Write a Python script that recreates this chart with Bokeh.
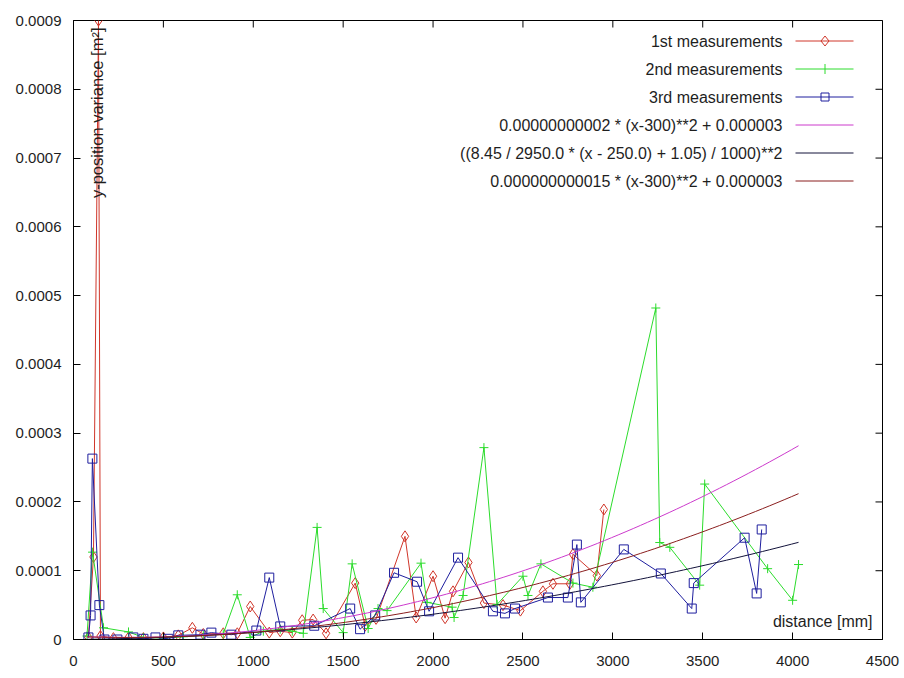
import numpy as np
from bokeh.plotting import figure
from bokeh.models import (FixedTicker, Range1d, Label, PolyAnnotation, Arrow,
                          NumeralTickFormatter)
from bokeh.embed import file_html
from bokeh.resources import INLINE

# ---- data ----
x_1st = [83, 111, 139, 150, 222, 306, 389, 500, 583, 661, 722, 833, 911, 983, 1089, 1150,
         1217, 1272, 1333, 1405, 1567, 1622, 1683, 1844, 1906, 2000, 2067, 2111, 2197, 2283,
         2389, 2486, 2611, 2667, 2761, 2778, 2911, 2950]
y_1st = [3e-6, 1.2e-4, 9.0e-4, 5e-6, 2e-6, 3e-6, 2e-6, 3e-6, 6e-6, 1.7e-5, 8e-6, 9e-6, 9e-6,
         4.8e-5, 1.0e-5, 1.2e-5, 1.0e-5, 2.8e-5, 2.9e-5, 9e-6, 8.2e-5, 2.0e-5, 3.0e-5, 1.5e-4,
         3.2e-5, 9.2e-5, 3.1e-5, 7.0e-5, 1.12e-4, 5.3e-5, 5.0e-5, 4.2e-5, 7.0e-5, 8.1e-5,
         8.1e-5, 1.24e-4, 9.3e-5, 1.89e-4]

x_2nd = [75, 106, 167, 306, 389, 500, 611, 722, 833, 911, 983, 1056, 1150, 1217, 1278, 1355,
         1389, 1500, 1550, 1639, 1694, 1744, 1933, 1967, 2106, 2117, 2167, 2283, 2356, 2500,
         2528, 2600, 2778, 2889, 3239, 3261, 3317, 3483, 3511, 3861, 4000, 4033]
y_2nd = [5e-6, 1.27e-4, 1.7e-5, 1.1e-5, 3e-6, 2e-6, 4e-6, 6e-6, 8e-6, 6.5e-5, 3e-6, 1.2e-5,
         1.5e-5, 1.2e-5, 9e-6, 1.63e-4, 4.5e-5, 1.0e-5, 1.1e-4, 1.6e-5, 4.5e-5, 4.2e-5,
         1.11e-4, 5.4e-5, 4.7e-5, 3.2e-5, 6.4e-5, 2.79e-4, 5.1e-5, 9.2e-5, 6.4e-5, 1.1e-4,
         8.2e-5, 7.6e-5, 4.82e-4, 1.41e-4, 1.34e-4, 7.9e-5, 2.26e-4, 1.03e-4, 5.7e-5, 1.09e-4]

x_3rd = [83, 95, 105, 144, 172, 244, 333, 389, 456, 528, 583, 706, 767, 878, 1017, 1089, 1150,
         1339, 1539, 1594, 1678, 1783, 1911, 1978, 2139, 2333, 2400, 2456, 2639, 2750, 2800,
         2822, 3061, 3267, 3439, 3450, 3733, 3800, 3828]
y_3rd = [3e-6, 3.5e-5, 2.63e-4, 5.0e-5, 0.0, 0.0, 3e-6, 1e-6, 3e-6, 1e-6, 6e-6, 7e-6, 1.0e-5,
         7e-6, 1.3e-5, 9.0e-5, 1.9e-5, 2.0e-5, 4.5e-5, 1.5e-5, 3.5e-5, 9.7e-5, 8.4e-5, 4.1e-5,
         1.19e-4, 4.1e-5, 3.8e-5, 4.5e-5, 6.1e-5, 6.1e-5, 1.38e-4, 5.4e-5, 1.31e-4, 9.6e-5,
         4.5e-5, 8.2e-5, 1.48e-4, 6.7e-5, 1.6e-4]

legend_labels = ["1st measurements", "2nd measurements", "3rd measurements",
                 "0.00000000002 * (x-300)**2 + 0.000003",
                 "((8.45 / 2950.0 * (x - 250.0) + 1.05) / 1000)**2",
                 "0.000000000015 * (x-300)**2 + 0.000003"]
x_ticks = [0, 500, 1000, 1500, 2000, 2500, 3000, 3500, 4000, 4500]
y_ticks = [0, 0.0001, 0.0002, 0.0003, 0.0004, 0.0005, 0.0006, 0.0007, 0.0008, 0.0009]
X_MIN, X_MAX = 0, 4500
Y_MIN, Y_MAX = 0, 0.0009

# fitted functions given in the legend, sampled over the data range (gnuplot default 100 samples)
xs = np.linspace(min(x_2nd), max(x_2nd), 100)
f1 = 0.00000000002 * (xs - 300) ** 2 + 0.000003
f2 = ((8.45 / 2950.0 * (xs - 250.0) + 1.05) / 1000) ** 2
f3 = 0.000000000015 * (xs - 300) ** 2 + 0.000003

C_RED = "#d0362a"
C_GREEN = "#2cdc2c"
C_BLUE = "#1e1e9e"
C_MAG = "#cc3acc"
C_DARK = "#12123a"
C_BROWN = "#8a1e1e"
FONT = "Liberation Sans"
TXT = "#1e1e1e"

p = figure(width=904, height=678, output_backend="svg", toolbar_location=None,
           x_range=Range1d(X_MIN, X_MAX), y_range=Range1d(Y_MIN, Y_MAX))
p.min_border_left = 73
p.min_border_right = 22
p.min_border_top = 20
p.min_border_bottom = 39
p.xgrid.visible = False
p.ygrid.visible = False
p.outline_line_color = "black"
p.outline_line_width = 1
p.background_fill_color = "white"
p.border_fill_color = "white"

for ax in (p.xaxis[0], p.yaxis[0]):
    ax.major_tick_in = 7
    ax.major_tick_out = 0
    ax.minor_tick_line_color = None
    ax.axis_line_color = "black"
    ax.major_tick_line_color = "black"
    ax.major_label_text_font = FONT
    ax.major_label_text_font_size = "15px"
    ax.major_label_text_color = TXT
p.xaxis[0].ticker = FixedTicker(ticks=x_ticks)
p.yaxis[0].ticker = FixedTicker(ticks=y_ticks)
p.yaxis[0].formatter = NumeralTickFormatter(format="0.[0000]")
p.xaxis[0].major_label_standoff = 16
p.yaxis[0].major_label_standoff = 12

# mirrored ticks on the top and right edges (half of each dash is clipped by the frame)
p.scatter(x_ticks, [Y_MAX] * len(x_ticks), marker="dash", angle=np.pi / 2, size=14,
          line_color="black", line_width=1)
p.scatter([X_MAX] * len(y_ticks), y_ticks, marker="dash", size=14,
          line_color="black", line_width=1)

p.line(x_1st, y_1st, line_color=C_RED, line_width=1)
p.scatter(x_1st, y_1st, marker="diamond", size=11, fill_color=None, line_color=C_RED)
p.line(x_2nd, y_2nd, line_color=C_GREEN, line_width=1)
p.scatter(x_2nd, y_2nd, marker="cross", size=9, line_color=C_GREEN)
p.line(x_3rd, y_3rd, line_color=C_BLUE, line_width=1)
p.scatter(x_3rd, y_3rd, marker="square", size=9, fill_color=None, line_color=C_BLUE)
p.line(xs, f1, line_color=C_MAG, line_width=1)
p.line(xs, f2, line_color=C_DARK, line_width=1)
p.line(xs, f3, line_color=C_BROWN, line_width=1)

# ---- key (text right-aligned, sample to the right, as gnuplot draws it) ----
key_colors = [C_RED, C_GREEN, C_BLUE, C_MAG, C_DARK, C_BROWN]
KX0, KX1, KXM = 722, 780, 751.5
for i, (t, c) in enumerate(zip(legend_labels, key_colors)):
    ky = 598 - 28 * i
    kl = ky + 0.5  # pixel-centred line
    p.add_layout(Label(x=709, y=ky, x_units="screen", y_units="screen", text=t,
                       text_align="right", text_baseline="middle", text_font=FONT,
                       text_font_size="16px", text_color=TXT))
    p.add_layout(Arrow(end=None, start=None, x_start=KX0, y_start=kl, x_end=KX1, y_end=kl,
                       start_units="screen", end_units="screen", line_color=c, line_width=1))
    if i == 0:
        p.add_layout(PolyAnnotation(xs=[KXM - 4, KXM, KXM + 4, KXM],
                                    ys=[kl, kl + 5, kl, kl - 5],
                                    xs_units="screen", ys_units="screen", fill_alpha=0,
                                    line_color=c, line_alpha=1.0, line_width=1))
    elif i == 1:
        p.add_layout(Arrow(end=None, start=None, x_start=KXM, y_start=kl - 5, x_end=KXM,
                           y_end=kl + 5, start_units="screen", end_units="screen",
                           line_color=c, line_width=1))
    elif i == 2:
        p.add_layout(PolyAnnotation(xs=[KXM - 4, KXM + 4, KXM + 4, KXM - 4],
                                    ys=[kl - 4, kl - 4, kl + 4, kl + 4],
                                    xs_units="screen", ys_units="screen", fill_alpha=0,
                                    line_color=c, line_alpha=1.0, line_width=1))

p.add_layout(Label(x=799, y=18, x_units="screen", y_units="screen", text="distance [mm]",
                   text_align="right", text_baseline="middle", text_font=FONT,
                   text_font_size="16px", text_color=TXT))
p.add_layout(Label(x=23, y=612, x_units="screen", y_units="screen",
                   text="y-position variance [m\u00b2]", angle=np.pi / 2,
                   text_align="right", text_baseline="middle", text_font=FONT,
                   text_font_size="16.5px", text_color=TXT))

open("out.html", "w").write(file_html(p, INLINE))
